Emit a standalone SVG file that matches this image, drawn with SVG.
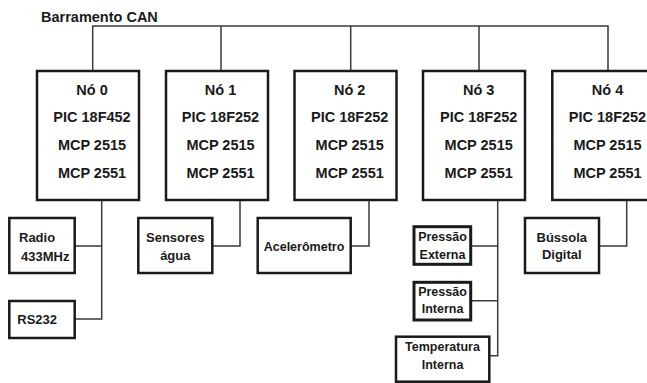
<svg xmlns="http://www.w3.org/2000/svg" width="647" height="383" viewBox="0 0 647 383">
<style>
text{font-family:"Liberation Sans",Arial,sans-serif;font-weight:bold;fill:#1a1a1a;text-anchor:middle}
.n{font-size:14.5px}
.s{font-size:13px}
.t{font-size:12.5px}
.box{fill:#fff;stroke:#1a1a1a;stroke-width:2.5}
.thick{fill:#fff;stroke:#1a1a1a;stroke-width:3}
.ln{fill:none;stroke:#3a3a3a;stroke-width:1.5}
</style>
<rect width="647" height="383" fill="#fff"/>
<text x="41" y="21.5" class="n" style="text-anchor:start">Barramento CAN</text>
<g id="connectors">
<path class="ln" d="M92.7,71 V26 H608 V71 M221,26 V71 M350.7,26 V71 M479,26 V71"/>
<path class="ln" d="M101.7,200 V319 H74.7 M101.7,246 H74.7"/>
<path class="ln" d="M240,200 V246 H212.3"/>
<path class="ln" d="M369,200 V246 H350.7"/>
<path class="ln" d="M497.7,200 V355.7 H489.3 M497.7,246 H470.7 M497.7,300.7 H470.7"/>
<path class="ln" d="M626.7,200 V246 H599"/>
</g>
<g id="no0">
<rect class="box" x="37" y="71" width="102" height="129"/>
<text x="92" y="95" class="n">Nó 0</text>
<text x="92" y="122.3" class="n">PIC 18F452</text>
<text x="92" y="150" class="n">MCP 2515</text>
<text x="92" y="177.7" class="n">MCP 2551</text>
</g>
<g id="no1">
<rect class="box" x="166" y="71" width="102" height="129"/>
<text x="220.5" y="95" class="n">Nó 1</text>
<text x="220.5" y="122.3" class="n">PIC 18F252</text>
<text x="220.5" y="150" class="n">MCP 2515</text>
<text x="220.5" y="177.7" class="n">MCP 2551</text>
</g>
<g id="no2">
<rect class="box" x="294.5" y="71" width="102" height="129"/>
<text x="349.7" y="95" class="n">Nó 2</text>
<text x="349.7" y="122.3" class="n">PIC 18F252</text>
<text x="349.7" y="150" class="n">MCP 2515</text>
<text x="349.7" y="177.7" class="n">MCP 2551</text>
</g>
<g id="no3">
<rect class="box" x="423" y="71" width="102" height="129"/>
<text x="478.7" y="95" class="n">Nó 3</text>
<text x="478.7" y="122.3" class="n">PIC 18F252</text>
<text x="478.7" y="150" class="n">MCP 2515</text>
<text x="478.7" y="177.7" class="n">MCP 2551</text>
</g>
<g id="no4">
<rect class="box" x="552.3" y="71" width="102" height="129"/>
<text x="607.5" y="95" class="n">Nó 4</text>
<text x="607.5" y="122.3" class="n">PIC 18F252</text>
<text x="607.5" y="150" class="n">MCP 2515</text>
<text x="607.5" y="177.7" class="n">MCP 2551</text>
</g>
<g id="radio">
<rect class="box" x="9.3" y="218" width="65.4" height="55"/>
<text x="19" y="241.7" class="s" style="text-anchor:start">Radio</text>
<text x="21" y="260.7" class="s" style="text-anchor:start">433MHz</text>
</g>
<g id="rs232">
<rect class="box" x="9.3" y="301" width="65.4" height="37"/>
<text x="17.3" y="324" class="s" style="text-anchor:start">RS232</text>
</g>
<g id="sensores">
<rect class="box" x="138.3" y="218" width="74" height="55"/>
<text x="175.3" y="242.3" class="s">Sensores</text>
<text x="175.3" y="259.5" class="s">água</text>
</g>
<g id="acelerometro">
<rect class="box" x="257.7" y="218" width="93" height="55"/>
<text x="304" y="250.7" class="t">Acelerômetro</text>
</g>
<g id="pressao-externa">
<rect class="thick" x="414" y="226.7" width="56.7" height="37.6"/>
<text x="442.5" y="241" class="t">Pressão</text>
<text x="442.5" y="259.3" class="t">Externa</text>
</g>
<g id="pressao-interna">
<rect class="thick" x="414" y="282.3" width="56.7" height="37.7"/>
<text x="442.5" y="296" class="t">Pressão</text>
<text x="442.5" y="313.3" class="t">Interna</text>
</g>
<g id="temperatura">
<rect class="box" x="396" y="336.7" width="93.3" height="45"/>
<text x="442.5" y="350.7" class="t">Temperatura</text>
<text x="442.5" y="369" class="t">Interna</text>
</g>
<g id="bussola">
<rect class="box" x="525" y="218" width="74" height="55"/>
<text x="561.8" y="241.7" class="s">Bússola</text>
<text x="561.8" y="259.3" class="s">Digital</text>
</g>
</svg>
